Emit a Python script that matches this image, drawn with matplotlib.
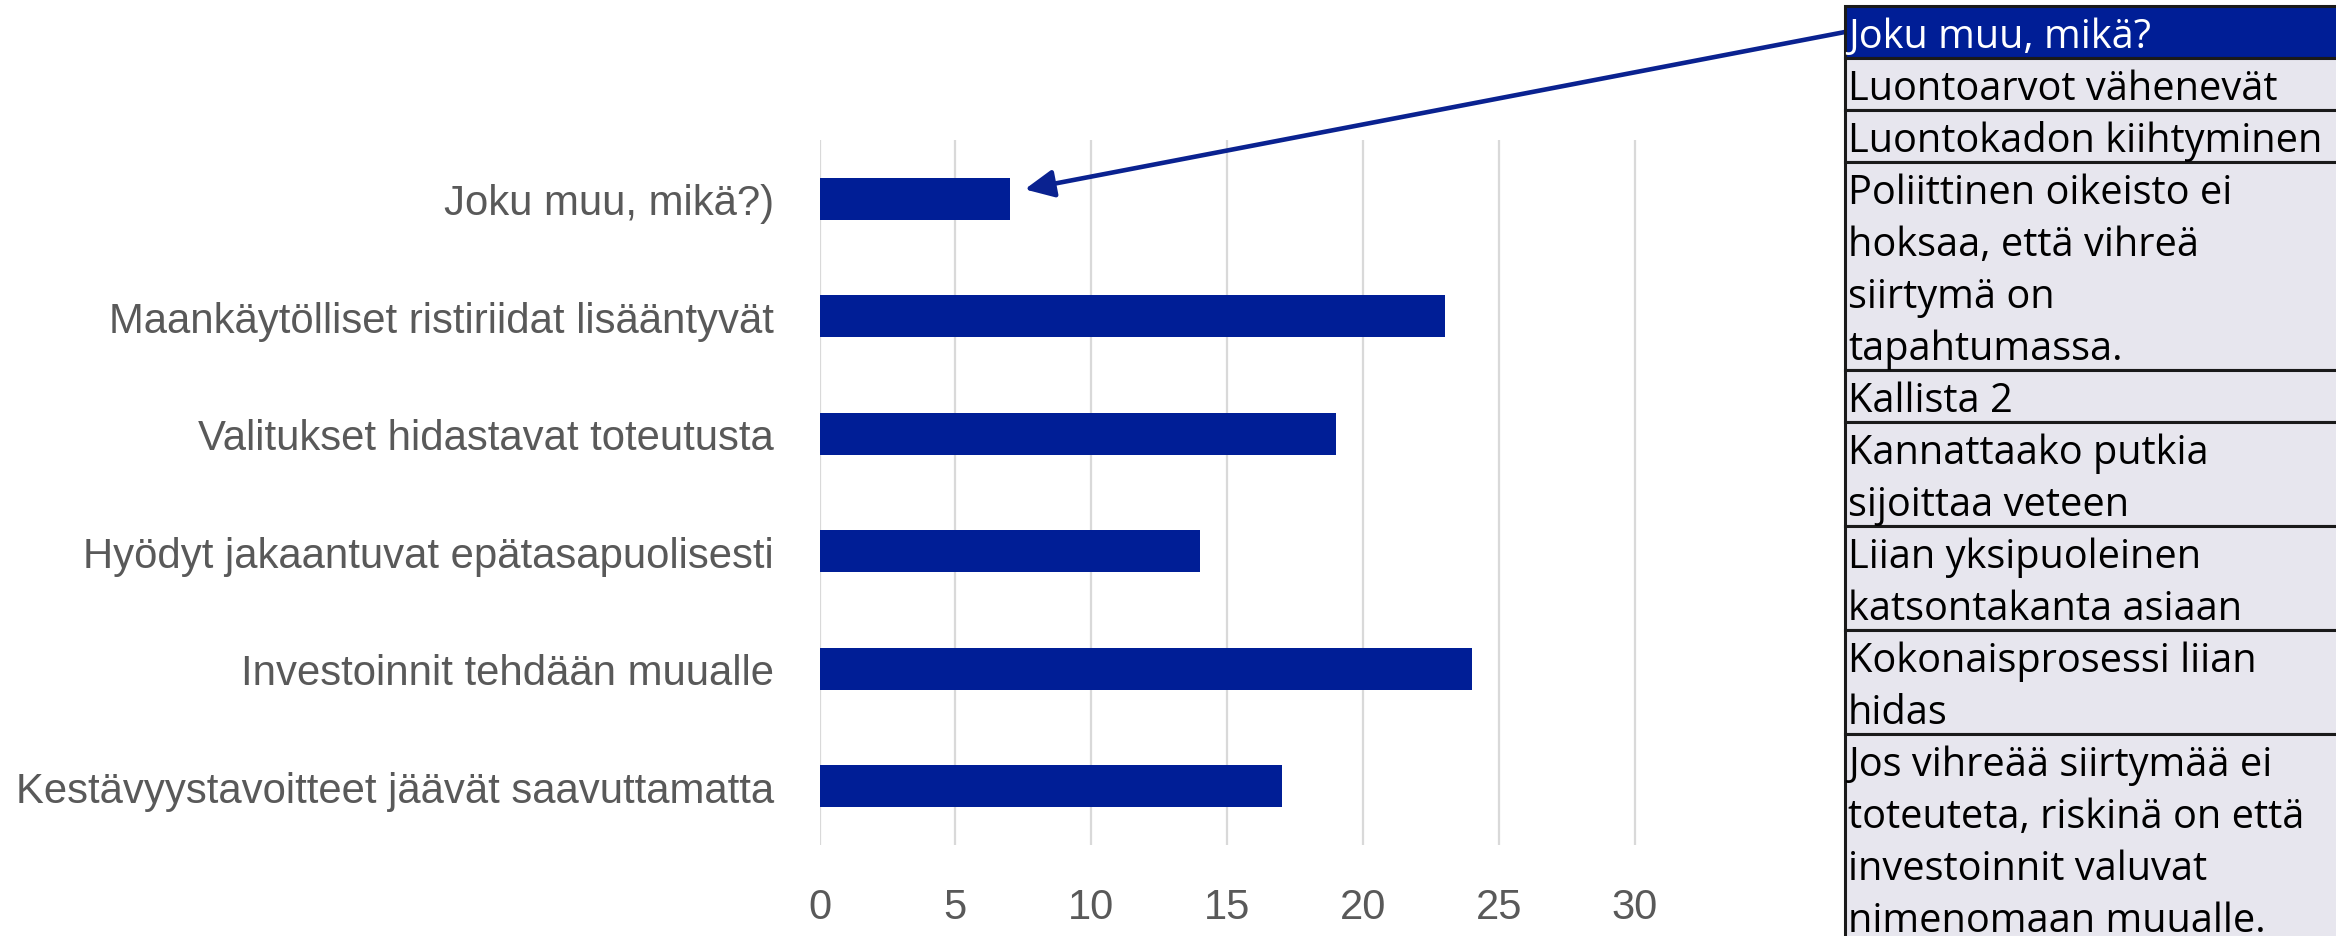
import matplotlib
matplotlib.use("Agg")
import matplotlib.pyplot as plt
from matplotlib.patches import Rectangle

# ---- data ----
categories = [
    "Joku muu, mikä?)",
    "Maankäytölliset ristiriidat lisääntyvät",
    "Valitukset hidastavat toteutusta",
    "Hyödyt jakaantuvat epätasapuolisesti",
    "Investoinnit tehdään muualle",
    "Kestävyystavoitteet jäävät saavuttamatta",
]
values = [7, 23, 19, 14, 24, 17]
xticks = [0, 5, 10, 15, 20, 25, 30]

table_header = ["Joku muu, mikä?"]
table_rows = [
    ["Luontoarvot vähenevät"],
    ["Luontokadon kiihtyminen"],
    ["Poliittinen oikeisto ei", "hoksaa, että vihreä", "siirtymä on", "tapahtumassa."],
    ["Kallista 2"],
    ["Kannattaako putkia", "sijoittaa veteen"],
    ["Liian yksipuoleinen", "katsontakanta asiaan"],
    ["Kokonaisprosessi liian", "hidas"],
    ["Jos vihreää siirtymää ei", "toteuteta, riskinä on että",
     "investoinnit valuvat", "nimenomaan muualle."],
]

BLUE = "#001E96"
GRAY_TXT = "#595959"
GRID = "#D9D9D9"
CELL = "#E7E6EE"

W, H = 2336, 937
fig = plt.figure(figsize=(W / 100, H / 100), dpi=100)

cat_font = ["Liberation Sans", "DejaVu Sans"]

ax = fig.add_axes([819.5 / W, 1 - 846 / H, (35 * 27.18) / W, (846 - 141) / H])
y = list(range(len(categories)))
ax.barh(y, values, height=0.355, color=BLUE, zorder=3)
ax.set_ylim(len(categories) - 0.5, -0.5)
ax.set_xlim(0, 35)
ax.set_xticks(xticks)
ax.set_yticks(y)
ax.set_yticklabels(categories, fontsize=30.2, color=GRAY_TXT, family=cat_font)
ax.set_xticklabels([str(t) for t in xticks], fontsize=30, color=GRAY_TXT, family=cat_font)
for t in xticks:
    ax.axvline(t, color=GRID, lw=1.6, zorder=1)
ax.tick_params(axis="y", length=0, pad=33)
ax.tick_params(axis="x", length=0, pad=30)
for s in ax.spines.values():
    s.set_visible(False)

# ---- table on the right (pixel coordinates) ----
x0 = 1845
tax = fig.add_axes([x0 / W, 0, (W - x0) / W, 1])
tax.set_xlim(0, W - x0)
tax.set_ylim(H, 0)
tax.axis("off")

line_h = 52
top = 7
tab_font = ["Open Sans", "DejaVu Sans"]
rows = [table_header] + table_rows
for i, lines in enumerate(rows):
    h = line_h * len(lines)
    fc = BLUE if i == 0 else CELL
    tc = "white" if i == 0 else "black"
    tax.add_patch(Rectangle((0, top), W - x0 + 10, h, facecolor=fc,
                            edgecolor="#1a1a1a", lw=2.2, clip_on=False))
    for j, ln in enumerate(lines):
        tax.text(3, top + 41 + j * line_h, ln, color=tc, fontsize=28.6,
                 family=tab_font, va="baseline", ha="left")
    top += h

# ---- arrow ----
ax.annotate("", xy=(values[0] + 0.55, -0.08), xycoords="data",
            xytext=(x0 / W, 1 - 33 / H), textcoords="figure fraction",
            arrowprops=dict(arrowstyle="-|>,head_length=0.8,head_width=0.38",
                            color="#0A2290", lw=3.3, mutation_scale=22,
                            shrinkA=0, shrinkB=0),
            annotation_clip=False)

fig.savefig("out.png", dpi=100)
